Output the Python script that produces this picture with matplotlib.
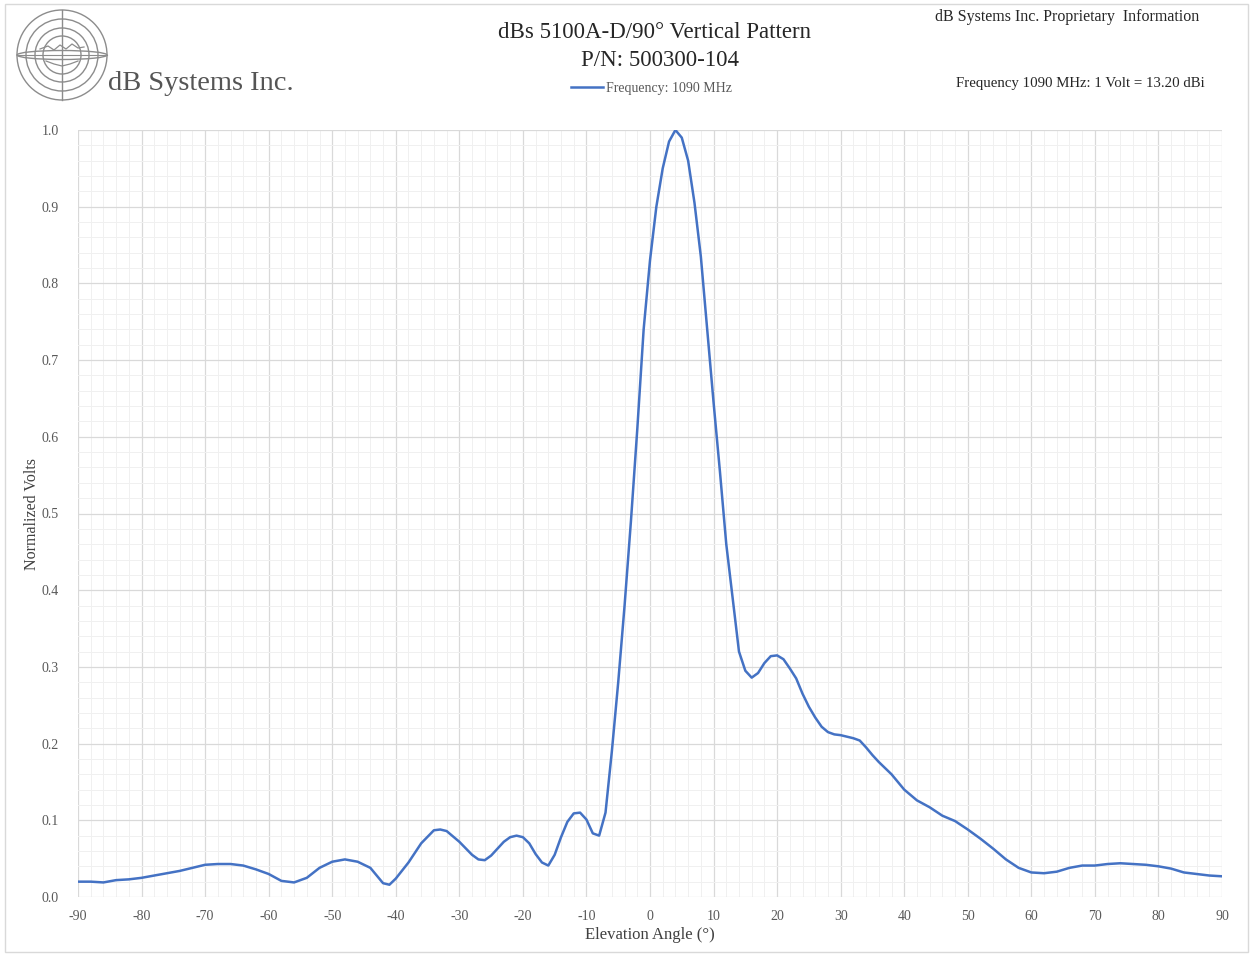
import matplotlib
matplotlib.use("Agg")
import matplotlib.pyplot as plt
from matplotlib.patches import Circle, Ellipse, Rectangle
from matplotlib.ticker import MultipleLocator, FormatStrFormatter

# ---- data ----
angles = [-90, -88, -86, -84, -82, -80, -78, -76, -74, -72, -70, -68, -66, -64, -62,
          -60, -58, -56, -54, -52, -50, -48, -46, -44, -42, -41, -40, -38, -36, -34,
          -33, -32, -30, -28, -27, -26, -25, -24, -23, -22, -21, -20, -19, -18, -17,
          -16, -15, -14, -13, -12, -11, -10, -9, -8, -7, -6, -5, -4, -3, -2, -1,
          0, 1, 2, 3, 4, 5, 6, 7, 8, 9, 10, 11, 12, 13, 14, 15, 16, 17, 18, 19,
          20, 21, 22, 23, 24, 25, 26, 27, 28, 29, 30, 31, 32, 33, 34, 35, 36, 37,
          38, 40, 42, 44, 46, 48, 50, 52, 54, 56, 58, 60, 62, 64, 66, 68, 70, 72,
          74, 76, 78, 80, 82, 84, 86, 88, 90]
volts = [0.020, 0.020, 0.019, 0.022, 0.023, 0.025, 0.028, 0.031, 0.034, 0.038, 0.042, 0.043, 0.043, 0.041, 0.036,
         0.030, 0.021, 0.019, 0.025, 0.038, 0.046, 0.049, 0.046, 0.038, 0.018, 0.016, 0.024, 0.045, 0.070, 0.087,
         0.088, 0.086, 0.072, 0.055, 0.049, 0.048, 0.054, 0.063, 0.072, 0.078, 0.080, 0.078, 0.070, 0.056, 0.045,
         0.041, 0.055, 0.078, 0.098, 0.109, 0.110, 0.101, 0.083, 0.080, 0.110, 0.190, 0.280, 0.380, 0.490, 0.610, 0.740,
         0.830, 0.900, 0.950, 0.985, 1.000, 0.990, 0.960, 0.905, 0.835, 0.740, 0.645, 0.555, 0.460, 0.390, 0.320, 0.295,
         0.286, 0.292, 0.305, 0.314, 0.315, 0.310, 0.298, 0.285, 0.265, 0.248, 0.234, 0.222, 0.215, 0.212, 0.211,
         0.209, 0.207, 0.204, 0.195, 0.185, 0.176, 0.168, 0.160, 0.140, 0.126, 0.117, 0.106, 0.099, 0.088, 0.076,
         0.063, 0.049, 0.038, 0.032, 0.031, 0.033, 0.038, 0.041, 0.041, 0.043, 0.044, 0.043, 0.042, 0.040, 0.037,
         0.032, 0.030, 0.028, 0.027]

x_ticks = list(range(-90, 91, 10))
y_ticks = [0.0, 0.1, 0.2, 0.3, 0.4, 0.5, 0.6, 0.7, 0.8, 0.9, 1.0]

title_line1 = "dBs 5100A-D/90° Vertical Pattern"
title_line2 = "P/N: 500300-104"
series_label = "Frequency: 1090 MHz"
note_top = "dB Systems Inc. Proprietary  Information"
note_freq = "Frequency 1090 MHz: 1 Volt = 13.20 dBi"
company = "dB Systems Inc."

plt.rcParams['font.family'] = ['Liberation Serif', 'DejaVu Serif']
plt.rcParams['axes.unicode_minus'] = False

W, H = 1251, 955
fig = plt.figure(figsize=(W / 100, H / 100), dpi=100)
fig.patch.set_facecolor('white')

# outer border
fig.add_artist(Rectangle((5 / W, 1 - 952 / H), 1243 / W, 948 / H, transform=fig.transFigure,
                         fill=False, edgecolor='#d9d9d9', linewidth=1.0))

ax = fig.add_axes([78 / W, 1 - 897 / H, (1222 - 78) / W, (897 - 130) / H])
ax.plot(angles, volts, color='#4472C4', linewidth=1.8, label=series_label,
        solid_capstyle='round', solid_joinstyle='round')
ax.set_xlim(-90, 90)
ax.set_ylim(0, 1.0)
ax.set_xticks(x_ticks)
ax.set_yticks(y_ticks)
ax.xaxis.set_minor_locator(MultipleLocator(2))
ax.yaxis.set_minor_locator(MultipleLocator(0.02))
ax.yaxis.set_major_formatter(FormatStrFormatter('%.1f'))
ax.grid(which='major', color='#d9d9d9', linewidth=0.9)
ax.grid(which='minor', color='#f0f0f0', linewidth=0.7)
ax.set_axisbelow(True)
for s in ax.spines.values():
    s.set_visible(False)
ax.tick_params(which='both', length=0)
ax.tick_params(axis='y', pad=14, labelsize=10, labelcolor='#595959')
ax.tick_params(axis='x', pad=9, labelsize=10, labelcolor='#595959')
ax.set_xlabel("Elevation Angle (°)", fontsize=12, color='#404040', labelpad=3)
ax.set_ylabel("Normalized Volts", fontsize=11.5, color='#404040', labelpad=1)

# titles
fig.text(655 / W, 1 - 33 / H, title_line1, ha='center', va='center', fontsize=16.5, color='#262626')
fig.text(660 / W, 1 - 60 / H, title_line2, ha='center', va='center', fontsize=16.5, color='#262626')

# legend
fig.add_artist(plt.Line2D([571 / W, 603 / W], [1 - 87 / H, 1 - 87 / H], transform=fig.transFigure,
                          color='#4472C4', linewidth=1.8))
fig.text(606 / W, 1 - 88 / H, series_label, ha='left', va='center', fontsize=10, color='#595959')

# right notes
fig.text(1067 / W, 1 - 17 / H, note_top, ha='center', va='center', fontsize=11.5, color='#262626')
fig.text(1080 / W, 1 - 83 / H, note_freq, ha='center', va='center', fontsize=10.7, color='#262626')

# logo
lax = fig.add_axes([0, 1 - 110 / H, 320 / W, 110 / H])
lax.set_xlim(0, 320)
lax.set_ylim(110, 0)
lax.set_aspect('equal')
lax.axis('off')
cx, cy = 62, 55
for r in (45, 36, 27, 19):
    lax.add_patch(Circle((cx, cy), r, fill=False, edgecolor='#8c8c8c', linewidth=1.0))
lax.plot([cx, cx], [cy - 45, cy + 45], color='#8c8c8c', linewidth=1.0)
lax.add_patch(Ellipse((cx, cy), 90, 9, fill=False, edgecolor='#8c8c8c', linewidth=1.0))
lax.plot([cx - 45, cx + 45], [cy, cy], color='#8c8c8c', linewidth=0.8)
lax.plot([cx - 22, cx - 14, cx - 8, cx - 2, cx + 4, cx + 10, cx + 16, cx + 22],
         [cy - 6, cy - 9, cy - 5, cy - 10, cy - 6, cy - 11, cy - 7, cy - 8], color='#8c8c8c', linewidth=0.9)
lax.plot([cx - 16, cx - 8, cx, cx + 8, cx + 16],
         [cy + 6, cy + 9, cy + 11, cy + 9, cy + 6], color='#8c8c8c', linewidth=0.9)
lax.text(108, 90, company, ha='left', va='baseline', fontsize=20.5, color='#555555')

fig.savefig('out.png', dpi=100, facecolor='white')
